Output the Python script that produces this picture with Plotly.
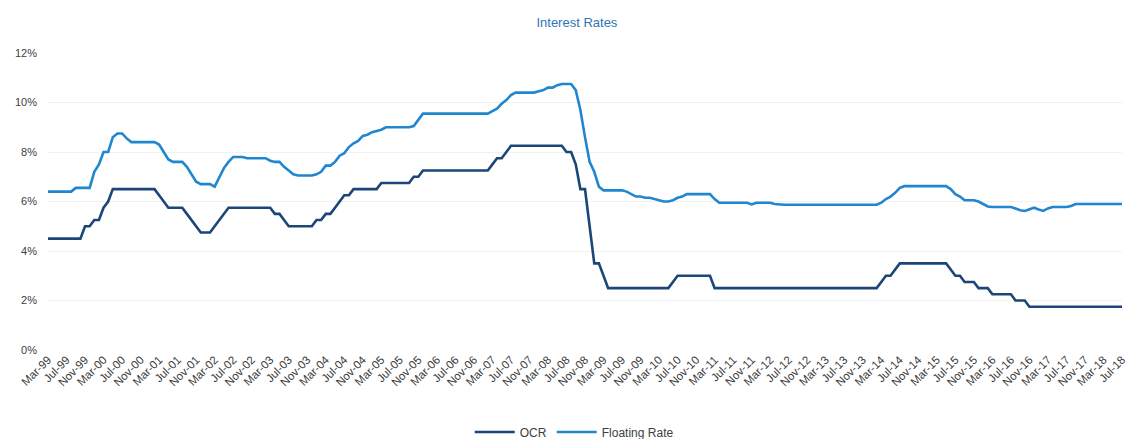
import pandas as pd
import plotly.graph_objects as go

# Monthly observations, March 1999 to July 2018 (percent)
months = pd.date_range("1999-03-01", "2018-07-01", freq="MS").strftime("%b-%y").tolist()

ocr = (
    # 1999 (Mar-Dec)
    [4.5, 4.5, 4.5, 4.5, 4.5, 4.5, 4.5, 4.5, 5.0, 5.0]
    # 2000
    + [5.25, 5.25, 5.75, 6.0, 6.5, 6.5, 6.5, 6.5, 6.5, 6.5, 6.5, 6.5]
    # 2001
    + [6.5, 6.5, 6.25, 6.0, 5.75, 5.75, 5.75, 5.75, 5.5, 5.25, 5.0, 4.75]
    # 2002
    + [4.75, 4.75, 5.0, 5.25, 5.5, 5.75, 5.75, 5.75, 5.75, 5.75, 5.75, 5.75]
    # 2003
    + [5.75, 5.75, 5.75, 5.5, 5.5, 5.25, 5.0, 5.0, 5.0, 5.0, 5.0, 5.0]
    # 2004
    + [5.25, 5.25, 5.5, 5.5, 5.75, 6.0, 6.25, 6.25, 6.5, 6.5, 6.5, 6.5]
    # 2005
    + [6.5, 6.5, 6.75, 6.75, 6.75, 6.75, 6.75, 6.75, 6.75, 7.0, 7.0, 7.25]
    # 2006
    + [7.25, 7.25, 7.25, 7.25, 7.25, 7.25, 7.25, 7.25, 7.25, 7.25, 7.25, 7.25]
    # 2007
    + [7.25, 7.25, 7.5, 7.75, 7.75, 8.0, 8.25, 8.25, 8.25, 8.25, 8.25, 8.25]
    # 2008
    + [8.25, 8.25, 8.25, 8.25, 8.25, 8.25, 8.0, 8.0, 7.5, 6.5, 6.5, 5.0]
    # 2009
    + [3.5, 3.5, 3.0, 2.5, 2.5, 2.5, 2.5, 2.5, 2.5, 2.5, 2.5, 2.5]
    # 2010
    + [2.5, 2.5, 2.5, 2.5, 2.5, 2.75, 3.0, 3.0, 3.0, 3.0, 3.0, 3.0]
    # 2011
    + [3.0, 3.0, 2.5, 2.5, 2.5, 2.5, 2.5, 2.5, 2.5, 2.5, 2.5, 2.5]
    # 2012
    + [2.5, 2.5, 2.5, 2.5, 2.5, 2.5, 2.5, 2.5, 2.5, 2.5, 2.5, 2.5]
    # 2013
    + [2.5, 2.5, 2.5, 2.5, 2.5, 2.5, 2.5, 2.5, 2.5, 2.5, 2.5, 2.5]
    # 2014
    + [2.5, 2.5, 2.75, 3.0, 3.0, 3.25, 3.5, 3.5, 3.5, 3.5, 3.5, 3.5]
    # 2015
    + [3.5, 3.5, 3.5, 3.5, 3.5, 3.25, 3.0, 3.0, 2.75, 2.75, 2.75, 2.5]
    # 2016
    + [2.5, 2.5, 2.25, 2.25, 2.25, 2.25, 2.25, 2.0, 2.0, 2.0, 1.75, 1.75]
    # 2017
    + [1.75, 1.75, 1.75, 1.75, 1.75, 1.75, 1.75, 1.75, 1.75, 1.75, 1.75, 1.75]
    # 2018 (Jan-Jul)
    + [1.75, 1.75, 1.75, 1.75, 1.75, 1.75, 1.75]
)

floating_rate = (
    # 1999 (Mar-Dec)
    [6.4, 6.4, 6.4, 6.4, 6.4, 6.4, 6.55, 6.55, 6.55, 6.55]
    # 2000
    + [7.2, 7.5, 8.0, 8.0, 8.6, 8.75, 8.75, 8.55, 8.4, 8.4, 8.4, 8.4]
    # 2001
    + [8.4, 8.4, 8.3, 8.0, 7.7, 7.6, 7.6, 7.6, 7.4, 7.1, 6.8, 6.7]
    # 2002
    + [6.7, 6.7, 6.6, 7.0, 7.35, 7.6, 7.8, 7.8, 7.8, 7.75, 7.75, 7.75]
    # 2003
    + [7.75, 7.75, 7.65, 7.6, 7.6, 7.4, 7.25, 7.1, 7.05, 7.05, 7.05, 7.05]
    # 2004
    + [7.1, 7.2, 7.45, 7.45, 7.6, 7.85, 7.95, 8.2, 8.35, 8.45, 8.65, 8.7]
    # 2005
    + [8.8, 8.85, 8.9, 9.0, 9.0, 9.0, 9.0, 9.0, 9.0, 9.05, 9.3, 9.55]
    # 2006
    + [9.55, 9.55, 9.55, 9.55, 9.55, 9.55, 9.55, 9.55, 9.55, 9.55, 9.55, 9.55]
    # 2007
    + [9.55, 9.55, 9.65, 9.75, 9.95, 10.1, 10.3, 10.4, 10.4, 10.4, 10.4, 10.4]
    # 2008
    + [10.45, 10.5, 10.6, 10.6, 10.7, 10.75, 10.75, 10.75, 10.5, 9.7, 8.6, 7.6]
    # 2009
    + [7.2, 6.6, 6.45, 6.45, 6.45, 6.45, 6.45, 6.4, 6.3, 6.2, 6.2, 6.15]
    # 2010
    + [6.15, 6.1, 6.05, 6.0, 6.0, 6.05, 6.15, 6.2, 6.3, 6.3, 6.3, 6.3]
    # 2011
    + [6.3, 6.3, 6.1, 5.95, 5.95, 5.95, 5.95, 5.95, 5.95, 5.95, 5.88, 5.95]
    # 2012
    + [5.95, 5.95, 5.95, 5.9, 5.87, 5.87, 5.87, 5.87, 5.87, 5.87, 5.87, 5.87]
    # 2013
    + [5.87, 5.87, 5.87, 5.87, 5.87, 5.87, 5.87, 5.87, 5.87, 5.87, 5.87, 5.87]
    # 2014
    + [5.87, 5.87, 5.95, 6.1, 6.2, 6.35, 6.55, 6.62, 6.62, 6.62, 6.62, 6.62]
    # 2015
    + [6.62, 6.62, 6.62, 6.62, 6.62, 6.5, 6.3, 6.2, 6.05, 6.05, 6.05, 6.0]
    # 2016
    + [5.9, 5.8, 5.78, 5.78, 5.78, 5.78, 5.78, 5.72, 5.65, 5.62, 5.7, 5.75]
    # 2017
    + [5.68, 5.62, 5.72, 5.78, 5.78, 5.78, 5.78, 5.82, 5.9, 5.9, 5.9, 5.9]
    # 2018 (Jan-Jul)
    + [5.9, 5.9, 5.9, 5.9, 5.9, 5.9, 5.9]
)

# Axis labels every fourth month
tick_labels = months[::4]
y_ticks = [0, 2, 4, 6, 8, 10, 12]

OCR_COLOR = "#1b4677"
FLOAT_COLOR = "#2186d0"

fig = go.Figure()
fig.add_trace(go.Scatter(
    x=months, y=ocr, name="OCR", mode="lines",
    line=dict(color=OCR_COLOR, width=2.6),
))
fig.add_trace(go.Scatter(
    x=months, y=floating_rate, name="Floating Rate", mode="lines",
    line=dict(color=FLOAT_COLOR, width=2.6),
))

fig.update_layout(
    width=1129, height=439,
    margin=dict(l=48, r=7, t=53, b=89, autoexpand=False),
    paper_bgcolor="white", plot_bgcolor="white",
    font=dict(family="Liberation Sans, Arial, sans-serif", color="#404040"),
    title=dict(
        text="Interest Rates", x=0.511, xanchor="center", y=0.95, yanchor="middle",
        font=dict(size=13, color="#2e75b6", family="Liberation Sans, Arial, sans-serif"),
    ),
    showlegend=True,
    legend=dict(
        orientation="h", x=0.49, xanchor="center", y=-0.276, yanchor="middle",
        font=dict(size=12, color="#404040"),
        itemwidth=40, tracegroupgap=0,
    ),
    xaxis=dict(
        type="category", range=[0, len(months) - 1], automargin=False,
        tickmode="array", tickvals=tick_labels, ticktext=tick_labels,
        tickangle=-45, tickfont=dict(size=11.5, color="#3a3a3a"),
        showgrid=False, showline=False, zeroline=False, ticks="",
    ),
    yaxis=dict(
        range=[0, 12], tickvals=y_ticks, automargin=False,
        ticktext=[f"{v}%" for v in y_ticks],
        tickfont=dict(size=11, color="#404040"),
        showgrid=True, gridcolor="#f1f1f1", gridwidth=1,
        zeroline=False, showline=False, ticklabelstandoff=10,
    ),
)

fig.write_html("out.html")
